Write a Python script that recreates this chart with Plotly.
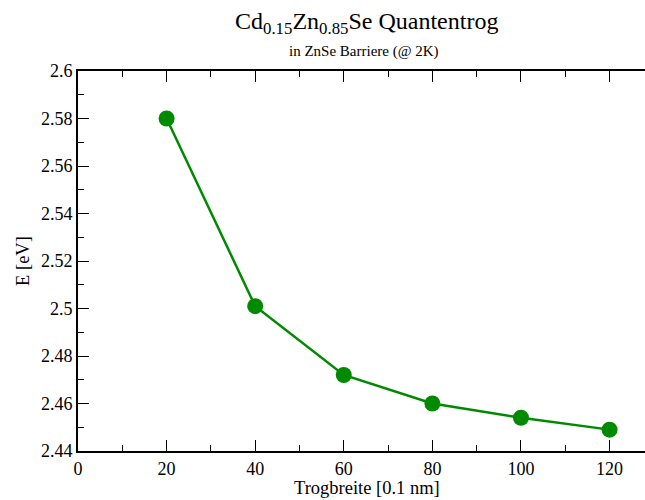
import plotly.graph_objects as go

# Well width (in 0.1 nm) and transition energy (eV)
trogbreite = [20, 40, 60, 80, 100, 120]
energie = [2.580, 2.501, 2.472, 2.460, 2.454, 2.449]

title_main = "Cd<sub>0.15</sub>Zn<sub>0.85</sub>Se Quantentrog"
title_sub = "in ZnSe Barriere (@ 2K)"
x_title = "Trogbreite [0.1 nm]"
y_title = "E [eV]"

SERIF = "Liberation Serif"
GREEN = "#008a00"

W, H = 645, 500
ML, MR, MT, MB = 78, 0, 71, 49

fig = go.Figure()
fig.add_trace(go.Scatter(
    x=trogbreite, y=energie, mode="lines+markers",
    line=dict(color=GREEN, width=2.5),
    marker=dict(color=GREEN, size=16),
    showlegend=False,
))

axis_common = dict(
    showgrid=False, zeroline=False,
    showline=True, linecolor="black", linewidth=2,
    ticks="inside", ticklen=11, tickwidth=1.3, tickcolor="black",
    tickfont=dict(family=SERIF, size=18, color="black"),
)

fig.update_xaxes(
    range=[0, 128], dtick=20, tick0=0, mirror="ticks",
    minor=dict(ticks="inside", ticklen=6, tickwidth=1.3, tickcolor="black", dtick=10),
    **axis_common,
)
fig.update_yaxes(
    range=[2.44, 2.6], dtick=0.02, tick0=2.44, mirror=False,
    minor=dict(ticks="inside", ticklen=6, tickwidth=1.3, tickcolor="black", dtick=0.01),
    title=dict(text=y_title, font=dict(family=SERIF, size=18.5, color="black"), standoff=6),
    **axis_common,
)

def px_to_paper(px):
    return (px - ML) / (W - ML - MR)

def py_to_paper(py):
    return (H - MB - py) / (H - MT - MB)

fig.add_annotation(
    text=title_main, xref="paper", yref="paper",
    x=px_to_paper(366), y=py_to_paper(23),
    xanchor="center", yanchor="middle", showarrow=False,
    font=dict(family=SERIF, size=24, color="black"),
)
fig.add_annotation(
    text=title_sub, xref="paper", yref="paper",
    x=px_to_paper(364), y=py_to_paper(52),
    xanchor="center", yanchor="middle", showarrow=False,
    font=dict(family=SERIF, size=15, color="black"),
)
fig.add_annotation(
    text=x_title, xref="paper", yref="paper",
    x=px_to_paper(367), y=py_to_paper(488),
    xanchor="center", yanchor="middle", showarrow=False,
    font=dict(family=SERIF, size=18.5, color="black"),
)

fig.update_layout(
    width=W, height=H,
    margin=dict(l=ML, r=MR, t=MT, b=MB),
    paper_bgcolor="white", plot_bgcolor="white",
    font=dict(family=SERIF, color="black"),
)

fig.write_html("out.html")
